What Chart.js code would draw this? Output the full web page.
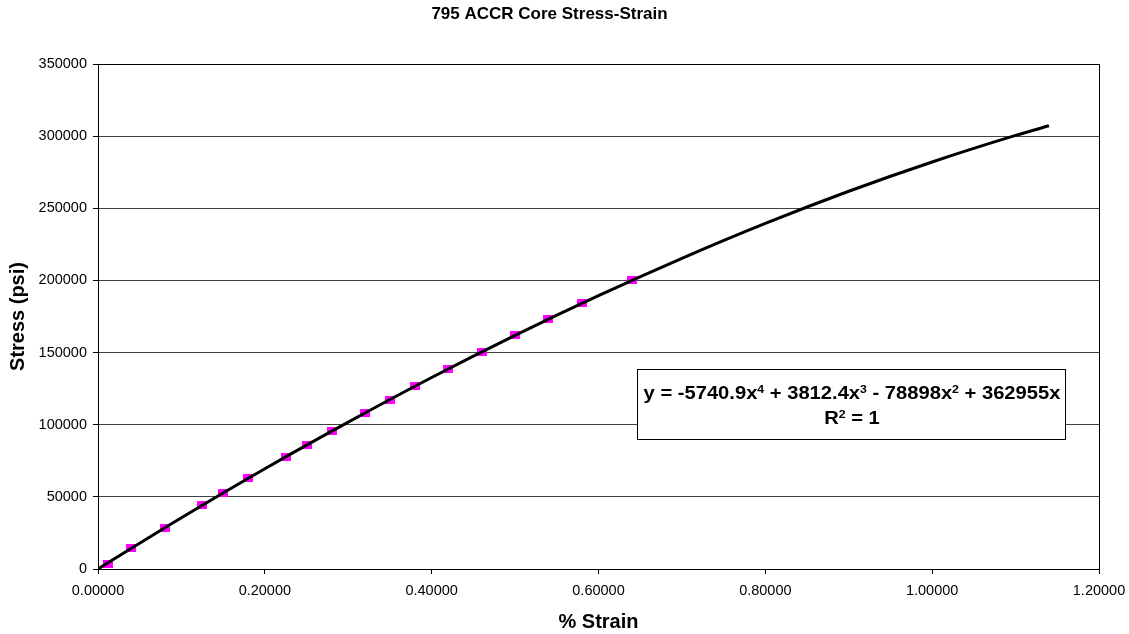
<!DOCTYPE html>
<html>
<head>
<meta charset="utf-8">
<title>795 ACCR Core Stress-Strain</title>
<script src="https://cdn.jsdelivr.net/npm/chart.js@4.4.1/dist/chart.umd.min.js"></script>
<style>
    body { margin: 0; background: #fff; }
    #wrap { width: 1129px; height: 634px; }
</style>
</head>
<body>
<div id="wrap"><canvas id="chart" width="1129" height="634"></canvas></div>
<script>
// measured points (% strain, psi)
const testStrain = [0.012, 0.04, 0.08, 0.125, 0.15, 0.18, 0.225, 0.25, 0.28, 0.32, 0.35, 0.38, 0.42, 0.46, 0.50, 0.54, 0.58, 0.64];
const testStress = [3700, 14400, 28500, 44100, 52700, 62800, 77700, 85800, 95500, 108100, 117400, 126600, 138600, 150400, 161900, 173100, 184100, 200000];

// trendline
const trendStrain = [0, 0.1, 0.2, 0.3, 0.4, 0.5, 0.6, 0.7, 0.8, 0.9, 1.0, 1.1, 1.14];
const trendStress = [0, 35500, 69500, 101800, 132700, 161900, 189400, 215300, 239500, 261800, 282100, 300500, 307200];

const xTicks = [0, 0.2, 0.4, 0.6, 0.8, 1.0, 1.2];
const yTicks = [0, 50000, 100000, 150000, 200000, 250000, 300000, 350000];

const equationText = ['y = -5740.9x', '4', ' + 3812.4x', '3', ' - 78898x', '2', ' + 362955x'];
const rSquaredText = ['R', '2', ' = 1'];

const FONT = 'Arial, "Liberation Sans", sans-serif';

// magenta marker, a bit wider than tall like the original
function makeMarker() {
    const c = document.createElement('canvas');
    c.width = 10;
    c.height = 8;
    const g = c.getContext('2d');
    g.fillStyle = '#ff00ff';
    g.fillRect(0, 0, 10, 8);
    return c;
}

// text pieces, odd ones are superscripts; the label is a bit stretched sideways
function drawSupText(ctx, parts, cx, baseline, stretch) {
    const big = 'bold 18px ' + FONT;
    const small = 'bold 11px ' + FONT;
    let total = 0;
    parts.forEach((p, i) => {
        ctx.font = i % 2 ? small : big;
        total += ctx.measureText(p).width;
    });
    ctx.save();
    ctx.translate(cx, baseline);
    ctx.scale(stretch, 1);
    let x = -total / 2;
    ctx.textAlign = 'left';
    ctx.textBaseline = 'alphabetic';
    parts.forEach((p, i) => {
        ctx.font = i % 2 ? small : big;
        ctx.fillText(p, x, i % 2 ? -6 : 0);
        x += ctx.measureText(p).width;
    });
    ctx.restore();
}

const extras = {
    id: 'extras',
    afterDraw(chart) {
        const ctx = chart.ctx;
        const a = chart.chartArea;
        ctx.save();
        // plot frame
        ctx.strokeStyle = '#000';
        ctx.lineWidth = 1;
        ctx.strokeRect(Math.round(a.left) + 0.5, Math.round(a.top) + 0.5,
            Math.round(a.right - a.left), Math.round(a.bottom - a.top));

        // trendline label box
        const bx = Math.round(a.left) + 539, by = Math.round(a.top) + 305, bw = 428, bh = 70;
        ctx.fillStyle = '#fff';
        ctx.fillRect(bx, by, bw, bh);
        ctx.strokeRect(bx + 0.5, by + 0.5, bw, bh);
        ctx.fillStyle = '#000';
        drawSupText(ctx, equationText, bx + bw / 2 + 1, by + 30, 1.12);
        drawSupText(ctx, rSquaredText, bx + bw / 2 + 1, by + 55, 1.12);
        ctx.restore();
    }
};

const ctx = document.getElementById('chart').getContext('2d');
const chart = new Chart(ctx, {
    type: 'scatter',
    data: {
        datasets: [
            {
                label: 'Poly. (Core)',
                data: trendStrain.map((x, i) => ({ x: x, y: trendStress[i] })),
                showLine: true,
                borderColor: '#000',
                borderWidth: 3,
                pointRadius: 0,
                cubicInterpolationMode: 'monotone',
                fill: false
            },
            {
                label: 'Core',
                data: testStrain.map((x, i) => ({ x: x, y: testStress[i] })),
                showLine: false,
                pointStyle: makeMarker(),
                pointRadius: 5,
                backgroundColor: '#ff00ff',
                borderColor: '#ff00ff'
            }
        ]
    },
    options: {
        responsive: false,
        animation: false,
        layout: { padding: { left: 0, right: 30, top: 0, bottom: 0 } },
        plugins: {
            legend: { display: false },
            tooltip: { enabled: false },
            title: {
                display: true,
                text: '795 ACCR Core Stress-Strain',
                color: '#000',
                font: { family: FONT, size: 17, weight: 'bold' },
                padding: { top: 4, bottom: 39.6 }
            }
        },
        scales: {
            x: {
                type: 'linear',
                min: 0,
                max: 1.2,
                afterBuildTicks: (scale) => { scale.ticks = xTicks.map(v => ({ value: v })); },
                afterFit: (scale) => {
                    scale.height = 65;
                    scale.paddingLeft = 0;
                    scale.paddingRight = 0;
                },
                ticks: {
                    color: '#000',
                    font: { family: FONT, size: 14.5 },
                    padding: 8,
                    maxRotation: 0,
                    callback: (v) => Number(v).toFixed(5)
                },
                grid: { drawOnChartArea: false, drawTicks: true, tickLength: 5, color: '#000' },
                border: { color: '#000', width: 1 },
                title: {
                    display: true,
                    text: '% Strain',
                    color: '#000',
                    font: { family: FONT, size: 20, weight: 'bold' },
                    padding: { top: 0, bottom: 0 }
                }
            },
            y: {
                type: 'linear',
                min: 0,
                max: 350000,
                afterBuildTicks: (scale) => { scale.ticks = yTicks.map(v => ({ value: v })); },
                afterFit: (scale) => { scale.width = 98; },
                ticks: {
                    color: '#000',
                    font: { family: FONT, size: 14.5 },
                    padding: 6,
                    callback: (v) => String(v)
                },
                grid: { color: '#404040', tickColor: '#000', tickLength: 5, lineWidth: 1 },
                border: { color: '#000', width: 1 },
                title: {
                    display: true,
                    text: 'Stress (psi)',
                    color: '#000',
                    font: { family: FONT, size: 20, weight: 'bold' },
                    padding: { top: 6, bottom: 0 }
                }
            }
        }
    },
    plugins: [extras]
});
</script>
</body>
</html>
